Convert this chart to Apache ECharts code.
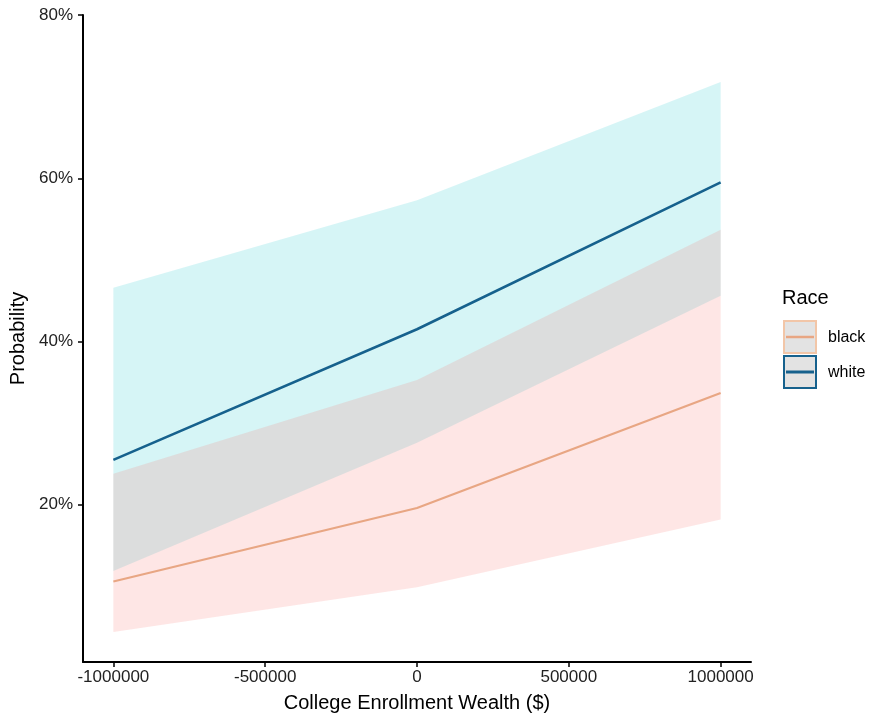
<!DOCTYPE html>
<html><head><meta charset="utf-8">
<script src="https://cdn.jsdelivr.net/npm/echarts@6/dist/echarts.min.js"></script>
<style>html,body{margin:0;padding:0;background:#fff}#c{width:880px;height:717px}</style>
</head><body><div id="c"></div>
<script>
// ---- data ----
const wealth = [-1000000, 0, 1000000];
const blackFit = [0.106, 0.196, 0.337];
const blackLower = [0.044, 0.099, 0.182];
const blackUpper = [0.238, 0.353, 0.537];
const whiteFit = [0.255, 0.415, 0.595];
const whiteLower = [0.119, 0.276, 0.456];
const whiteUpper = [0.466, 0.573, 0.718];
const xTicks = [-1000000, -500000, 0, 500000, 1000000];
const yTicks = [0.2, 0.4, 0.6, 0.8];
const raceLabels = ['black', 'white'];

const pairs = (ys) => wealth.map((x, i) => [x, ys[i]]);

const FONT = 'Liberation Sans, Arial, Helvetica, sans-serif';
const BLACK_COL = '#E8A683';
const WHITE_COL = '#16618D';

function bandSeries(name, lower, upper, color, z) {
  return {
    name: name, type: 'custom', silent: true, z: z,
    data: [[wealth[0], lower[0]]],
    renderItem: function (params, api) {
      const pts = [];
      for (let i = 0; i < wealth.length; i++) pts.push(api.coord([wealth[i], upper[i]]));
      for (let i = wealth.length - 1; i >= 0; i--) pts.push(api.coord([wealth[i], lower[i]]));
      return { type: 'polygon', shape: { points: pts }, style: { fill: color } };
    }
  };
}

const chart = echarts.init(document.getElementById('c'));

chart.setOption({
  backgroundColor: '#ffffff',
  animation: false,
  grid: { left: 83, right: 129, top: 15, bottom: 55, containLabel: false, outerBoundsMode: 'none' },
  xAxis: {
    type: 'value', min: -1100000, max: 1100000,
    name: 'College Enrollment Wealth ($)', nameLocation: 'middle', nameGap: 31,
    nameTextStyle: { fontFamily: FONT, fontSize: 20, color: '#000' },
    axisLine: { show: true, onZero: false, lineStyle: { color: '#000', width: 2 } },
    axisTick: { show: true, length: 5, lineStyle: { color: '#000', width: 1.5 }, customValues: xTicks },
    axisLabel: { show: true, margin: 7, fontFamily: FONT, fontSize: 17, color: '#222', customValues: xTicks,
                 formatter: (v) => String(v) },
    splitLine: { show: false }
  },
  yAxis: {
    type: 'value', min: 0.0074, max: 0.80,
    name: 'Probability', nameLocation: 'middle', nameGap: 46, nameRotate: 90,
    nameTextStyle: { fontFamily: FONT, fontSize: 20, color: '#000' },
    axisLine: { show: true, onZero: false, lineStyle: { color: '#000', width: 2 } },
    axisTick: { show: true, length: 5, lineStyle: { color: '#000', width: 1.5 }, customValues: yTicks },
    axisLabel: { show: true, margin: 10, fontFamily: FONT, fontSize: 17, color: '#222', customValues: yTicks,
                 formatter: (v) => Math.round(v * 100) + '%' },
    splitLine: { show: false }
  },
  series: [
    bandSeries('whiteBand', whiteLower, whiteUpper, 'rgba(0,191,196,0.16)', 1),
    bandSeries('blackBand', blackLower, blackUpper, 'rgba(248,118,109,0.18)', 2),
    { name: raceLabels[0], type: 'line', symbol: 'none', z: 5, data: pairs(blackFit),
      lineStyle: { color: BLACK_COL, width: 2.2 } },
    { name: raceLabels[1], type: 'line', symbol: 'none', z: 5, data: pairs(whiteFit),
      lineStyle: { color: WHITE_COL, width: 2.6 } }
  ],
  graphic: [
    { type: 'text', left: 782, top: 288, style: { text: 'Race', fontFamily: FONT, fontSize: 20, fill: '#000' } },
    { type: 'group', left: 783, top: 320, children: [
      { type: 'rect', shape: { x: 0, y: 0, width: 32, height: 32 }, style: { fill: '#E3E3E3', stroke: '#F2C6A8', lineWidth: 2 } },
      { type: 'line', shape: { x1: 2, y1: 16, x2: 30, y2: 16 }, style: { stroke: BLACK_COL, lineWidth: 2.5 } }
    ] },
    { type: 'text', left: 828, top: 330, style: { text: raceLabels[0], fontFamily: FONT, fontSize: 16, fill: '#000' } },
    { type: 'group', left: 783, top: 355, children: [
      { type: 'rect', shape: { x: 0, y: 0, width: 32, height: 32 }, style: { fill: '#E3E3E3', stroke: WHITE_COL, lineWidth: 2 } },
      { type: 'line', shape: { x1: 2, y1: 16, x2: 30, y2: 16 }, style: { stroke: WHITE_COL, lineWidth: 3 } }
    ] },
    { type: 'text', left: 828, top: 365, style: { text: raceLabels[1], fontFamily: FONT, fontSize: 16, fill: '#000' } }
  ]
});
</script>
</body></html>
